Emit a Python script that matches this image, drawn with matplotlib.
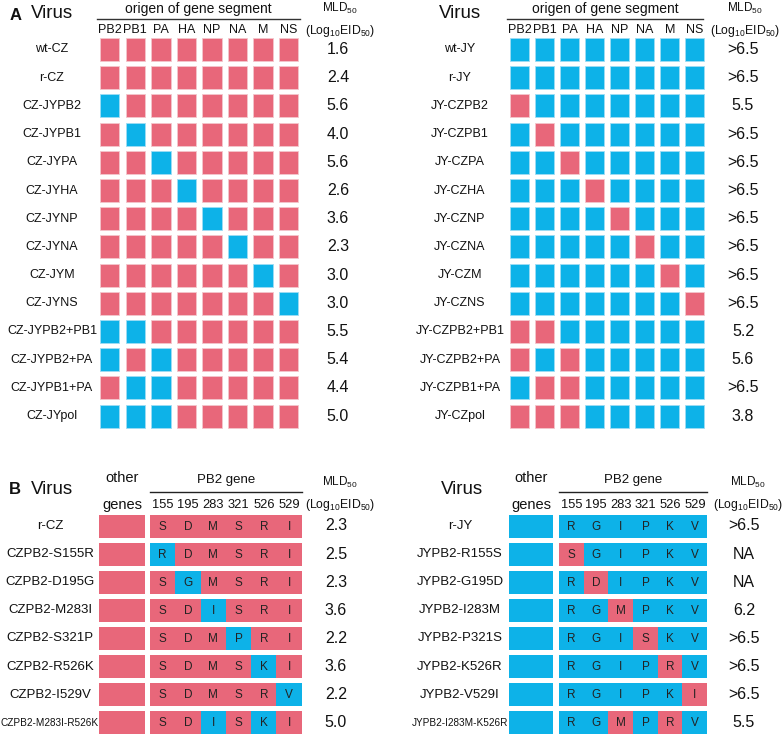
import matplotlib
matplotlib.use("Agg")
import matplotlib.pyplot as plt
from matplotlib.patches import Rectangle

plt.rcParams['font.family'] = ['Liberation Sans', 'DejaVu Sans']
plt.rcParams['mathtext.fontset'] = 'custom'
plt.rcParams['mathtext.rm'] = 'Liberation Sans'
plt.rcParams['mathtext.it'] = 'Liberation Sans:italic'
plt.rcParams['mathtext.bf'] = 'Liberation Sans:bold'

# ---------------- data ----------------
segments = ["PB2", "PB1", "PA", "HA", "NP", "NA", "M", "NS"]

cz_viruses = ["wt-CZ", "r-CZ", "CZ-JYPB2", "CZ-JYPB1", "CZ-JYPA", "CZ-JYHA", "CZ-JYNP",
              "CZ-JYNA", "CZ-JYM", "CZ-JYNS", "CZ-JYPB2+PB1", "CZ-JYPB2+PA",
              "CZ-JYPB1+PA", "CZ-JYpol"]
# origin of each segment: C = CZ, J = JY
cz_origin = ["CCCCCCCC", "CCCCCCCC", "JCCCCCCC", "CJCCCCCC", "CCJCCCCC", "CCCJCCCC",
             "CCCCJCCC", "CCCCCJCC", "CCCCCCJC", "CCCCCCCJ", "JJCCCCCC", "JCJCCCCC",
             "CJJCCCCC", "JJJCCCCC"]
cz_mld = ["1.6", "2.4", "5.6", "4.0", "5.6", "2.6", "3.6", "2.3", "3.0", "3.0",
          "5.5", "5.4", "4.4", "5.0"]

jy_viruses = ["wt-JY", "r-JY", "JY-CZPB2", "JY-CZPB1", "JY-CZPA", "JY-CZHA", "JY-CZNP",
              "JY-CZNA", "JY-CZM", "JY-CZNS", "JY-CZPB2+PB1", "JY-CZPB2+PA",
              "JY-CZPB1+PA", "JY-CZpol"]
jy_origin = ["JJJJJJJJ", "JJJJJJJJ", "CJJJJJJJ", "JCJJJJJJ", "JJCJJJJJ", "JJJCJJJJ",
             "JJJJCJJJ", "JJJJJCJJ", "JJJJJJCJ", "JJJJJJJC", "CCJJJJJJ", "CJCJJJJJ",
             "JCCJJJJJ", "CCCJJJJJ"]
jy_mld = [">6.5", ">6.5", "5.5", ">6.5", ">6.5", ">6.5", ">6.5", ">6.5", ">6.5",
          ">6.5", "5.2", "5.6", ">6.5", "3.8"]

pb2_positions = ["155", "195", "283", "321", "526", "529"]
cz_ref = "SDMSRI"
jy_ref = "RGIPKV"

czb_viruses = ["r-CZ", "CZPB2-S155R", "CZPB2-D195G", "CZPB2-M283I", "CZPB2-S321P",
               "CZPB2-R526K", "CZPB2-I529V", "CZPB2-M283I-R526K"]
czb_residues = ["SDMSRI", "RDMSRI", "SGMSRI", "SDISRI", "SDMPRI", "SDMSKI", "SDMSRV",
                "SDISKI"]
czb_mld = ["2.3", "2.5", "2.3", "3.6", "2.2", "3.6", "2.2", "5.0"]

jyb_viruses = ["r-JY", "JYPB2-R155S", "JYPB2-G195D", "JYPB2-I283M", "JYPB2-P321S",
               "JYPB2-K526R", "JYPB2-V529I", "JYPB2-I283M-K526R"]
jyb_residues = ["RGIPKV", "SGIPKV", "RDIPKV", "RGMPKV", "RGISKV", "RGIPRV", "RGIPKI",
                "RGMPRV"]
jyb_mld = [">6.5", "NA", "NA", "6.2", ">6.5", ">6.5", ">6.5", "5.5"]

# ---------------- style ----------------
CZ_COLOR = "#E8677A"
JY_COLOR = "#0DB2E8"
TXT = "#111111"
colors = {"C": CZ_COLOR, "J": JY_COLOR}

fig = plt.figure(figsize=(7.84, 7.36), dpi=100)
ax = fig.add_axes([0, 0, 1, 1])
ax.set_xlim(0, 784)
ax.set_ylim(736, 0)
ax.axis("off")

MLD = r"MLD$_{50}$"
LOG = r"(Log$_{10}$EID$_{50}$)"

# ---------------- panel A ----------------
A_ROW0, A_PITCH, A_H, A_W = 38, 28.2, 23, 19.5


def panel_a(label_x, x0, pitch, val_x, names, origins, mlds, line_end):
    for i, (n, o, m) in enumerate(zip(names, origins, mlds)):
        y = A_ROW0 + i * A_PITCH
        for j, c in enumerate(o):
            ax.add_patch(Rectangle((x0 + j * pitch, y), A_W, A_H,
                                   facecolor=colors[c], edgecolor="#f3c6cc" if c == "C" else "#9fdcf3",
                                   lw=0.6))
        ax.text(label_x, y + A_H / 2, n, ha="center", va="center", fontsize=9, color=TXT)
        ax.text(val_x, y + A_H / 2, m, ha="center", va="center", fontsize=11.5, color=TXT)
    for j, s in enumerate(segments):
        ax.text(x0 + j * pitch + A_W / 2, 30, s, ha="center", va="center", fontsize=9, color=TXT)
    ax.text((x0 - 3 + line_end) / 2, 9, "origen of gene segment", ha="center", va="center",
            fontsize=10, color=TXT)
    ax.plot([x0 - 3, line_end], [18.5, 18.5], color="#333333", lw=1)
    ax.text(val_x + 2, 8, MLD, ha="center", va="center", fontsize=8.5, color=TXT)
    ax.text(val_x + 2, 31, LOG, ha="center", va="center", fontsize=8.8, color=TXT)
    ax.text(label_x, 14, "Virus", ha="center", va="center", fontsize=13.5, color=TXT)


panel_a(52, 100, 25.57, 338, cz_viruses, cz_origin, cz_mld, 300)
panel_a(460, 510, 25.0, 743, jy_viruses, jy_origin, jy_mld, 703)
ax.text(16, 15, "A", ha="center", va="center", fontsize=12, fontweight="bold", color=TXT)

# ---------------- panel B ----------------
B_ROW0, B_PITCH, B_H = 514.5, 28.1, 23


def panel_b(label_x, other_x0, other_w, pb2_x0, seg_w, val_x, names, residues, mlds, bg):
    bg_ref = cz_ref if bg == "C" else jy_ref
    for i, (n, r, m) in enumerate(zip(names, residues, mlds)):
        y = B_ROW0 + i * B_PITCH
        ax.add_patch(Rectangle((other_x0, y), other_w, B_H, facecolor=colors[bg], lw=0))
        for j, aa in enumerate(r):
            c = "C" if aa == cz_ref[j] else "J"
            ax.add_patch(Rectangle((pb2_x0 + j * seg_w, y), seg_w, B_H,
                                   facecolor=colors[c], lw=0))
            ax.text(pb2_x0 + (j + 0.5) * seg_w, y + B_H / 2 + 0.5, aa, ha="center",
                    va="center", fontsize=8.5, color="#222222")
        fs = 7.2 if len(n) > 13 else 9.5
        ax.text(label_x, y + B_H / 2, n, ha="center", va="center", fontsize=fs, color=TXT)
        ax.text(val_x, y + B_H / 2, m, ha="center", va="center", fontsize=11.5, color=TXT)
    for j, p in enumerate(pb2_positions):
        ax.text(pb2_x0 + (j + 0.5) * seg_w, 505, p, ha="center", va="center", fontsize=9.3,
                color=TXT)
    end = pb2_x0 + seg_w * len(pb2_positions)
    ax.plot([pb2_x0, end], [491.5, 491.5], color="#222222", lw=1)
    ax.text((pb2_x0 + end) / 2, 480, "PB2 gene", ha="center", va="center", fontsize=9.5,
            color=TXT)
    ax.text(other_x0 + other_w / 2, 478, "other", ha="center", va="center", fontsize=10.5,
            color=TXT)
    ax.text(other_x0 + other_w / 2, 505, "genes", ha="center", va="center", fontsize=10.5,
            color=TXT)
    ax.text(val_x + 4, 482, MLD, ha="center", va="center", fontsize=8.5, color=TXT)
    ax.text(val_x + 4, 505, LOG, ha="center", va="center", fontsize=8.8, color=TXT)
    ax.text(label_x + 2, 490, "Virus", ha="center", va="center", fontsize=13.5, color=TXT)


panel_b(50, 99, 46, 150, 25.3, 336, czb_viruses, czb_residues, czb_mld, "C")
panel_b(460, 509, 44, 559, 24.7, 744, jyb_viruses, jyb_residues, jyb_mld, "J")
ax.text(15, 489, "B", ha="center", va="center", fontsize=12, fontweight="bold", color=TXT)

fig.savefig("out.png", dpi=100)
